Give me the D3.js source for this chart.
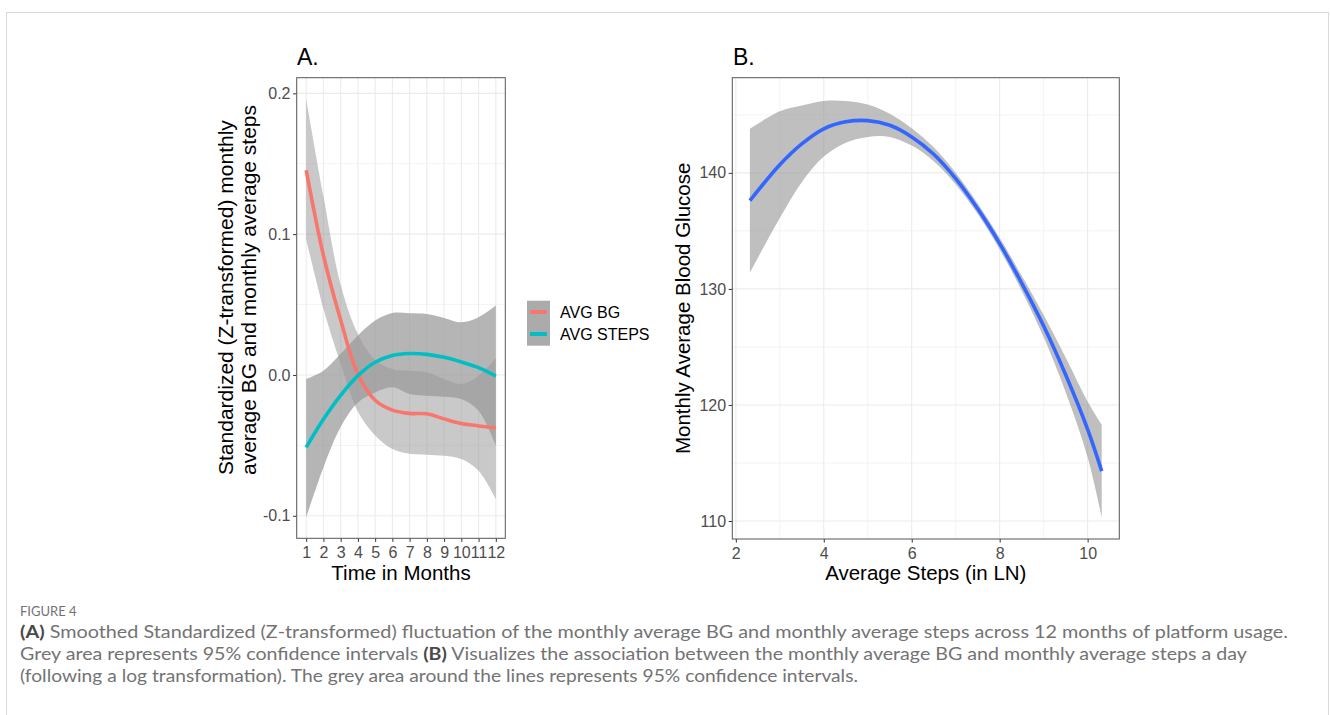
<!DOCTYPE html>
<html>
<head>
<meta charset="utf-8">
<script src="https://cdn.jsdelivr.net/npm/d3@7"></script>
<style>
  body { margin: 0; background: #fff; }
  svg { font-family: "Liberation Sans", Arial, sans-serif; }
  .tick text { fill: #4d4d4d; font-size: 16px; }
  .tick line { stroke: #333; }
</style>
</head>
<body>
<svg></svg>
<script>
const size = {w: 1330, h: 715};
const svg = d3.select('svg');

svg.attr('width', size.w)
    .attr('height', size.h);

// ---- panel A data (z-scores by month)
const months = [1, 2, 3, 4, 5, 6, 7, 8, 9, 10, 11, 12];
const bgFit = [0.1455, 0.085, 0.039, 0.0005, -0.018, -0.025, -0.0273, -0.0276, -0.0312, -0.0345, -0.0362, -0.0377];
const bgLo  = [0.0964, 0.047, 0.008, -0.026, -0.043, -0.0526, -0.056, -0.0566, -0.0574, -0.0597, -0.068, -0.0881];
const bgHi  = [0.196, 0.127, 0.064, 0.029, 0.0107, 0.0043, 0.003, 0.0019, -0.0029, -0.0064, -0.0005, 0.0121];
const stepsFit = [-0.0514, -0.0315, -0.0145, -0.0005, 0.009, 0.0138, 0.0152, 0.0146, 0.0125, 0.0092, 0.0052, -0.0008];
const stepsLo  = [-0.1012, -0.0657, -0.037, -0.0195, -0.0124, -0.0088, -0.0135, -0.0147, -0.0154, -0.0171, -0.0254, -0.0502];
const stepsHi  = [-0.0029, 0.003, 0.015, 0.028, 0.0386, 0.044, 0.0438, 0.0433, 0.0405, 0.0374, 0.041, 0.0493];
const legendLabels = ['AVG BG', 'AVG STEPS'];
const yTicksA = [-0.1, 0.0, 0.1, 0.2];
const yMinorA = [-0.05, 0.05, 0.15];

// ---- panel B data (BG vs ln steps)
const lnSteps = [2.32, 3, 3.5, 4, 4.5, 5, 5.5, 6, 6.5, 7, 7.5, 8, 8.5, 9, 9.5, 10, 10.32];
const glucFit = [137.6, 140.7, 142.5, 143.8, 144.4, 144.5, 144.1, 143.1, 141.6, 139.5, 136.9, 133.9, 130.5, 126.8, 122.6, 117.9, 114.3];
const glucHi  = [143.8, 145.3, 145.8, 146.2, 146.2, 145.9, 145.1, 143.85, 142.2, 140.0, 137.35, 134.4, 131.15, 127.75, 124.1, 120.3, 118.3];
const glucLo  = [131.4, 136.1, 139.2, 141.4, 142.6, 143.1, 143.1, 142.35, 141.0, 139.0, 136.45, 133.4, 129.85, 125.85, 121.1, 115.5, 110.3];
const xTicksB = [2, 4, 6, 8, 10];
const xMinorB = [3, 5, 7, 9];
const yTicksB = [110, 120, 130, 140];
const yMinorB = [115, 125, 135, 145];

const colors = {bg: '#F8766D', steps: '#00BFC4', fit: '#3366FF'};

// outer figure frame
svg.append('rect')
    .attr('x', 6.5).attr('y', 12.5)
    .attr('width', 1322).attr('height', 760)
    .attr('fill', 'none')
    .attr('stroke', '#dadada');

const panelA = {l: 296.7, r: 505.3, t: 77.7, b: 538.3};
const panelB = {l: 732.3, r: 1119.3, t: 77.7, b: 539};

let xA = d3.scaleLinear().domain([0.45, 12.55]).range([panelA.l, panelA.r]);
let yA = d3.scaleLinear().domain([-0.116, 0.2111]).range([panelA.b, panelA.t]);
let xB = d3.scaleLinear().domain([1.92, 10.72]).range([panelB.l, panelB.r]);
let yB = d3.scaleLinear().domain([108.45, 148.2]).range([panelB.b, panelB.t]);

drawGrid(panelA, xA, yA, [], months, yMinorA, yTicksA);
drawGrid(panelB, xB, yB, xMinorB, xTicksB, yMinorB, yTicksB);

// ---- bands and smooth lines
const rowsBG = months.map((m, i) => ({x: m, y: bgFit[i], lo: bgLo[i], hi: bgHi[i]}));
const rowsSteps = months.map((m, i) => ({x: m, y: stepsFit[i], lo: stepsLo[i], hi: stepsHi[i]}));
const rowsB = lnSteps.map((s, i) => ({x: s, y: glucFit[i], lo: glucLo[i], hi: glucHi[i]}));

drawBand(rowsBG, xA, yA, 0.53);
drawBand(rowsSteps, xA, yA, 0.72);
drawLine(rowsBG, xA, yA, colors.bg);
drawLine(rowsSteps, xA, yA, colors.steps);

drawBand(rowsB, xB, yB, 0.63);
drawLine(rowsB, xB, yB, colors.fit);

// axes
drawAxes(panelA, xA, yA, months, yTicksA, d => d.toFixed(1));
drawAxes(panelB, xB, yB, xTicksB, yTicksB, d => d);

// panel borders
[panelA, panelB].forEach(p => {
    svg.append('rect')
        .attr('x', p.l).attr('y', p.t)
        .attr('width', p.r - p.l).attr('height', p.b - p.t)
        .attr('fill', 'none')
        .attr('stroke', '#555')
        .attr('stroke-width', 1);
});

// titles
svg.append('text').attr('x', 297).attr('y', 65).attr('font-size', 23).text('A.');
svg.append('text').attr('x', 733).attr('y', 65).attr('font-size', 23).text('B.');

svg.append('text')
    .attr('x', (panelA.l + panelA.r) / 2).attr('y', 580)
    .attr('text-anchor', 'middle').attr('font-size', 20.5)
    .text('Time in Months');
svg.append('text')
    .attr('x', (panelB.l + panelB.r) / 2).attr('y', 580)
    .attr('text-anchor', 'middle').attr('font-size', 20.5)
    .text('Average Steps (in LN)');

let yTitleA = ['Standardized (Z-transformed) monthly', 'average BG and monthly average steps'];
yTitleA.forEach((t, i) => {
    svg.append('text')
        .attr('transform', `translate(${233 + i * 23},475) rotate(-90)`)
        .attr('font-size', 21)
        .text(t);
});
svg.append('text')
    .attr('transform', `translate(690,${(panelB.t + panelB.b) / 2}) rotate(-90)`)
    .attr('text-anchor', 'middle').attr('font-size', 20.5)
    .text('Monthly Average Blood Glucose');

// legend
let legendG = svg.append('g');
legendG.append('rect')
    .attr('x', 527).attr('y', 300.7)
    .attr('width', 23).attr('height', 45)
    .attr('fill', '#ababab');
legendG.selectAll('line.key')
    .data(legendLabels)
    .enter()
    .append('line')
    .attr('x1', 530).attr('x2', 547)
    .attr('y1', (d, i) => 312 + i * 22)
    .attr('y2', (d, i) => 312 + i * 22)
    .attr('stroke', (d, i) => i === 0 ? colors.bg : colors.steps)
    .attr('stroke-width', 4);
legendG.selectAll('text')
    .data(legendLabels)
    .enter()
    .append('text')
    .attr('x', 560)
    .attr('y', (d, i) => 318 + i * 22)
    .attr('font-size', 16)
    .text(d => d);

// caption
let cap = svg.append('g').attr('font-family', 'Lato, "Open Sans", sans-serif').attr('fill', '#737373');
cap.append('text').attr('x', 20).attr('y', 616).attr('font-size', 13).text('FIGURE 4');

let capLines = [
    [['(A)', true], [' Smoothed Standardized (Z-transformed) fluctuation of the monthly average BG and monthly average steps across 12 months of platform usage.', false]],
    [['Grey area represents 95% confidence intervals ', false], ['(B)', true], [' Visualizes the association between the monthly average BG and monthly average steps a day', false]],
    [['(following a log transformation). The grey area around the lines represents 95% confidence intervals.', false]]
];
let capWidths = [1268, 1227, 838];
capLines.forEach((parts, i) => {
    let t = cap.append('text')
        .attr('x', 20).attr('y', 638 + i * 22)
        .attr('font-size', 16.5)
        .attr('textLength', capWidths[i])
        .attr('lengthAdjust', 'spacingAndGlyphs');
    parts.forEach(p => {
        t.append('tspan')
            .attr('font-weight', p[1] ? 'bold' : null)
            .attr('fill', p[1] ? '#4a4a4a' : null)
            .text(p[0]);
    });
});


// gridlines behind the data
function drawGrid (p, x, y, xMinor, xMajor, yMinor, yMajor) {
    let g = svg.append('g').attr('class', 'grid');
    g.selectAll('line.vmin').data(xMinor).enter().append('line')
        .attr('x1', d => x(d)).attr('x2', d => x(d))
        .attr('y1', p.t).attr('y2', p.b)
        .attr('stroke', '#ebebeb').attr('stroke-width', 0.6);
    g.selectAll('line.hmin').data(yMinor).enter().append('line')
        .attr('x1', p.l).attr('x2', p.r)
        .attr('y1', d => y(d)).attr('y2', d => y(d))
        .attr('stroke', '#ebebeb').attr('stroke-width', 0.6);
    g.selectAll('line.vmaj').data(xMajor).enter().append('line')
        .attr('x1', d => x(d)).attr('x2', d => x(d))
        .attr('y1', p.t).attr('y2', p.b)
        .attr('stroke', '#ebebeb').attr('stroke-width', 1.1);
    g.selectAll('line.hmaj').data(yMajor).enter().append('line')
        .attr('x1', p.l).attr('x2', p.r)
        .attr('y1', d => y(d)).attr('y2', d => y(d))
        .attr('stroke', '#ebebeb').attr('stroke-width', 1.1);
}

function drawBand (rows, x, y, opacity) {
    let area = d3.area()
        .x(d => x(d.x))
        .y0(d => y(d.lo))
        .y1(d => y(d.hi))
        .curve(d3.curveCatmullRom.alpha(0.5));
    svg.append('path')
        .datum(rows)
        .attr('d', area)
        .attr('fill', '#999999')
        .attr('fill-opacity', opacity);
}

function drawLine (rows, x, y, color) {
    let line = d3.line()
        .x(d => x(d.x))
        .y(d => y(d.y))
        .curve(d3.curveCatmullRom.alpha(0.5));
    svg.append('path')
        .datum(rows)
        .attr('d', line)
        .attr('fill', 'none')
        .attr('stroke', color)
        .attr('stroke-width', 3.6);
}

function drawAxes (p, x, y, xTicks, yTicks, fmt) {
    let xAxis = svg.append('g')
        .attr('transform', `translate(0,${p.b})`)
        .call(d3.axisBottom(x).tickValues(xTicks).tickSize(3.6).tickPadding(5));
    let yAxis = svg.append('g')
        .attr('transform', `translate(${p.l},0)`)
        .call(d3.axisLeft(y).tickValues(yTicks).tickSize(3.6).tickPadding(2.6).tickFormat(fmt));
    xAxis.select('.domain').remove();
    yAxis.select('.domain').remove();
    xAxis.attr('font-family', null).attr('font-size', null);
    yAxis.attr('font-family', null).attr('font-size', null);
}
</script>
</body>
</html>
